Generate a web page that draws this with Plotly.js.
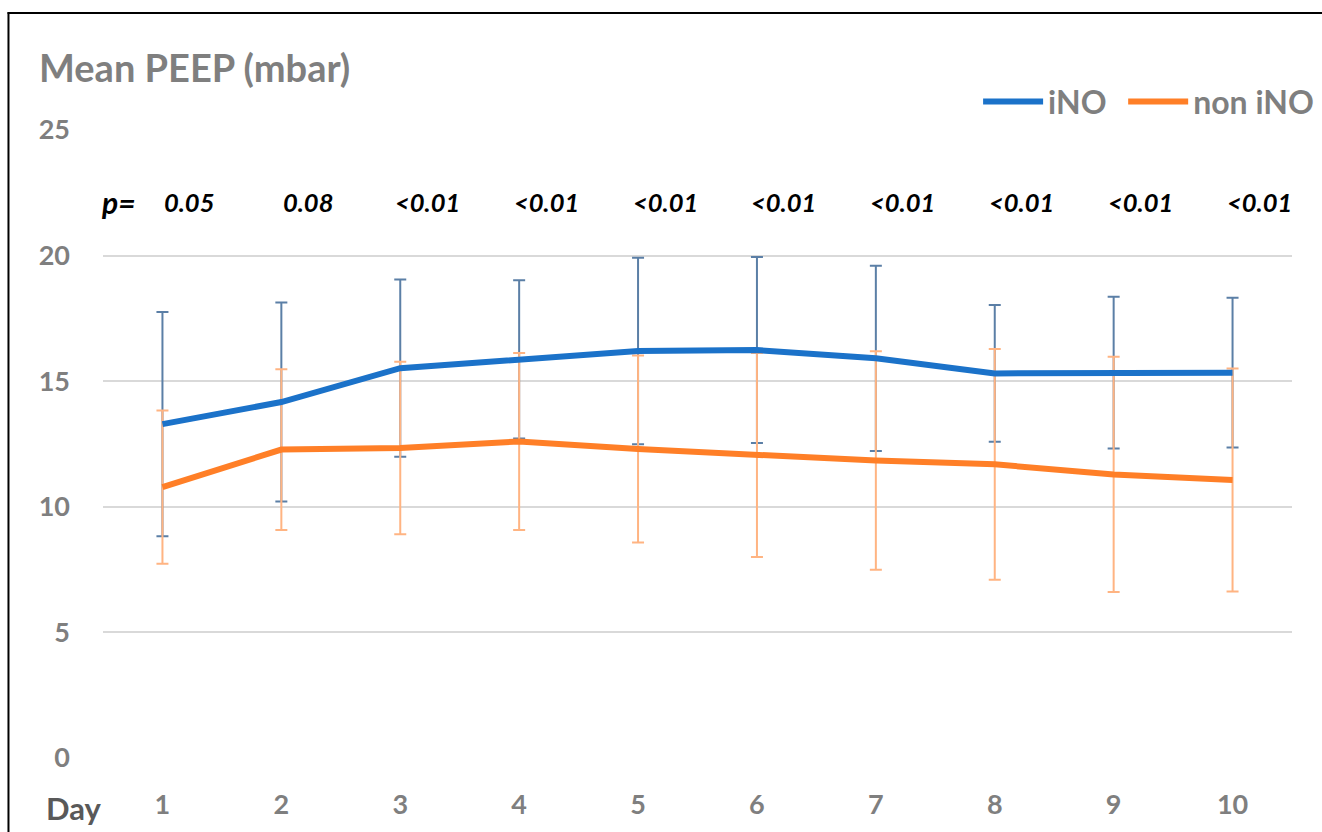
<!DOCTYPE html>
<html>
<head>
<meta charset="utf-8">
<script src="https://cdn.plot.ly/plotly-3.0.1.min.js"></script>
<style>html,body{margin:0;padding:0;background:#fff;}#chart{width:1322px;height:832px;}</style>
</head>
<body>
<div id="chart"></div>
<script>
var days = [1, 2, 3, 4, 5, 6, 7, 8, 9, 10];
var dayLabels = ["1", "2", "3", "4", "5", "6", "7", "8", "9", "10"];
var iNO = [13.29, 14.17, 15.52, 15.87, 16.2, 16.24, 15.91, 15.31, 15.34, 15.34];
var iNO_sd = [4.46, 3.96, 3.53, 3.15, 3.71, 3.7, 3.69, 2.72, 3.02, 2.98];
var nonINO = [10.78, 12.28, 12.34, 12.6, 12.3, 12.06, 11.84, 11.69, 11.29, 11.07];
var nonINO_sd = [3.05, 3.2, 3.43, 3.52, 3.72, 4.06, 4.35, 4.59, 4.68, 4.44];
var pValues = ["0.05", "0.08", "<0.01", "<0.01", "<0.01", "<0.01", "<0.01", "<0.01", "<0.01", "<0.01"];

var FONT = "Lato, 'Open Sans', sans-serif";
var GRAY = "#7f7f7f";

var traces = [
  {x: days, y: iNO, type: "scatter", mode: "markers", marker: {size: 0.1, color: "rgba(0,0,0,0)"},
   error_y: {type: "data", array: iNO_sd, visible: true, color: "#5b7fa6", thickness: 2, width: 6},
   showlegend: false, hoverinfo: "skip"},
  {x: days, y: nonINO, type: "scatter", mode: "markers", marker: {size: 0.1, color: "rgba(0,0,0,0)"},
   error_y: {type: "data", array: nonINO_sd, visible: true, color: "#ffb482", thickness: 2, width: 6},
   showlegend: false, hoverinfo: "skip"},
  {x: days, y: iNO, type: "scatter", mode: "lines", name: "iNO", legend: "legend",
   line: {color: "#1b72c9", width: 6}},
  {x: days, y: nonINO, type: "scatter", mode: "lines", name: "non iNO", legend: "legend2",
   line: {color: "#ff7f27", width: 6}}
];

var annotations = [
  {xref: "paper", yref: "paper", x: -0.0555, y: 1.1, xanchor: "left", yanchor: "middle",
   text: "<b>Mean PEEP (mbar)</b>", showarrow: false, font: {family: FONT, size: 38, color: GRAY}},
  {xref: "paper", yref: "paper", x: -0.05, y: -0.08, xanchor: "left", yanchor: "middle",
   text: "<b>Day</b>", showarrow: false, font: {family: FONT, size: 31, color: "#595959"}},
  {xref: "paper", yref: "y", x: -0.003, y: 22.13, xanchor: "left", yanchor: "middle",
   text: "<b><i>p=</i></b>", showarrow: false, font: {family: FONT, size: 30, color: "#000"}}
];
for (var i = 0; i < days.length; i++) {
  annotations.push({x: days[i], y: 22.13, xref: "x", yref: "y", xshift: 27, xanchor: "center", yanchor: "middle",
    text: "<b><i>" + pValues[i].replace("<", "&lt;") + "</i></b>", showarrow: false,
    font: {family: FONT, size: 25.5, color: "#000"}});
}

var legendStyle = function (xpos) {
  return {orientation: "h", x: xpos, xanchor: "left", y: 1.045, yanchor: "middle",
    font: {family: FONT, size: 32, color: GRAY, weight: "bold"}, itemwidth: 60, bgcolor: "rgba(0,0,0,0)"};
};

var layout = {
  width: 1322, height: 832,
  margin: {l: 103, r: 30, t: 130, b: 74, autoexpand: false},
  paper_bgcolor: "#fff", plot_bgcolor: "#fff",
  font: {family: FONT, color: GRAY},
  showlegend: true,
  legend: legendStyle(0.736),
  legend2: legendStyle(0.858),
  xaxis: {range: [0.5, 10.5], tickmode: "array", tickvals: days, ticktext: dayLabels,
    showgrid: false, zeroline: false, showline: false, ticks: "",
    tickfont: {family: FONT, size: 27, color: GRAY, weight: "bold"}, ticklabelstandoff: 28, fixedrange: true},
  yaxis: {range: [0, 25], tickvals: [0, 5, 10, 15, 20, 25], showgrid: true, gridcolor: "#d9d9d9", gridwidth: 2,
    zeroline: false, showline: false, ticks: "",
    tickfont: {family: FONT, size: 27, color: GRAY, weight: "bold"}, ticklabelstandoff: 32, fixedrange: true},
  annotations: annotations,
  shapes: [
    {type: "line", xref: "paper", yref: "paper", x0: -0.0803, x1: 1.03, y0: 1.1865, y1: 1.1865, line: {color: "#000", width: 2}},
    {type: "line", xref: "paper", yref: "paper", x0: -0.0795, x1: -0.0795, y0: 1.1875, y1: -0.2, line: {color: "#000", width: 2}}
  ]
};
Plotly.newPlot("chart", traces, layout, {displayModeBar: false, staticPlot: true});
</script>
</body>
</html>
